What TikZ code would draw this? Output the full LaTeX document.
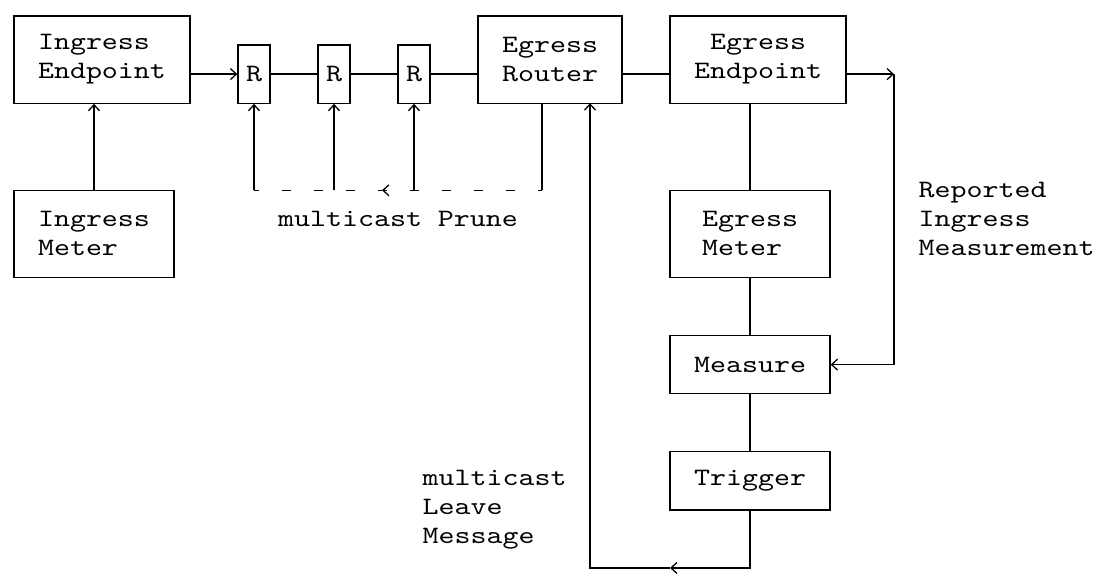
\documentclass[tikz,border=0pt]{standalone}
\usepackage{fontspec}
\newfontfamily\asciifont[FakeStretch=1.219]{lmmono10-regular.otf}
\usetikzlibrary{arrows.meta}
\tikzset{box/.style={draw,rectangle,inner sep=0pt,font=\asciifont\fontsize{25}{29.05}\selectfont},
         lbl/.style={inner sep=0pt,font=\asciifont\fontsize{25}{29.05}\selectfont},
         prune/.style={dash pattern=on 9pt off 23pt,dash phase=4.5pt}}

\begin{document}
\begin{tikzpicture}[x=16pt,y=-29.05pt,line width=1.3pt,>={Straight Barb[length=6pt,width=11pt]}]
\useasboundingbox (-0.875,-0.551) rectangle (67.625,19.449);

          \node [box,minimum width=176pt,minimum height=87.15pt,align=left] at (5.5,1.5) (ie) {Ingress\\Endpoint};
             \node [box,minimum width=32pt,minimum height=58.1pt] at (15,2) (r1) {R};
             \node [box,minimum width=32pt,minimum height=58.1pt] at (20,2) (r2) {R};
             \node [box,minimum width=32pt,minimum height=58.1pt] at (25,2) (r3) {R};
              \node [box,minimum width=144pt,minimum height=87.15pt,align=left] at (33.5,1.5) (er) {Egress\\Router};
              \node [box,minimum width=176pt,minimum height=87.15pt,align=center] at (46.5,1.5) (ee) {Egress\\Endpoint};
               \node [box,minimum width=160pt,minimum height=87.15pt,align=left] at (5,7.5) (im) {Ingress\\Meter};
                \node [box,minimum width=160pt,minimum height=87.15pt,align=left] at (46,7.5) (em) {Egress\\Meter};
                \node [box,minimum width=160pt,minimum height=58.1pt] at (46,12) (ms) {Measure};
                \node [box,minimum width=160pt,minimum height=58.1pt] at (46,16) (tr) {Trigger};
%
             \node [lbl] at (24,7) (prunetext) {multicast Prune};
             \node [lbl,anchor=west,align=left] at (25.5,17) (leavetext) {multicast\\Leave\\Message};
             \node [lbl,anchor=west,align=left] at (56.5,7) (reporttext) {Reported\\Ingress\\Measurement};
%
\coordinate (rep) at (55,2);
\coordinate (pr) at (33,6);
\coordinate (prmid) at (23,6);
\coordinate (prend) at (15,6);
\coordinate (lv) at (41,19);
\coordinate (lvtop) at (36,3);
%
\draw[->] (ie.east |- r1.west) -- (r1.west);
\draw (r1) -- (r2);
\draw (r2) -- (r3);
\draw (r3) -- (r3 -| er.west);
\draw (er.east |- r3) -- (ee.west |- r3);
\draw[->] (ee.east |- r3) -- (rep);
\draw[->] (rep) |- (ms.east);
%
\draw (er.south -| pr) -- (pr);
\draw[prune,->] (pr) -- (prmid);
\draw[prune] (prmid) -- (prend);
\draw[->] (prend) -- (r1);
\draw[->] (r2 |- prend) -- (r2);
\draw[->] (r3 |- prend) -- (r3);
%
\draw[->] (im) -- (im |- ie.south);
\draw (ee.south -| em) -- (em);
\draw (em) -- (ms);
\draw (ms) -- (tr);
\draw[->] (tr) |- (lv);
\draw[->] (lv) -| (lvtop);

\end{tikzpicture}
\end{document}
